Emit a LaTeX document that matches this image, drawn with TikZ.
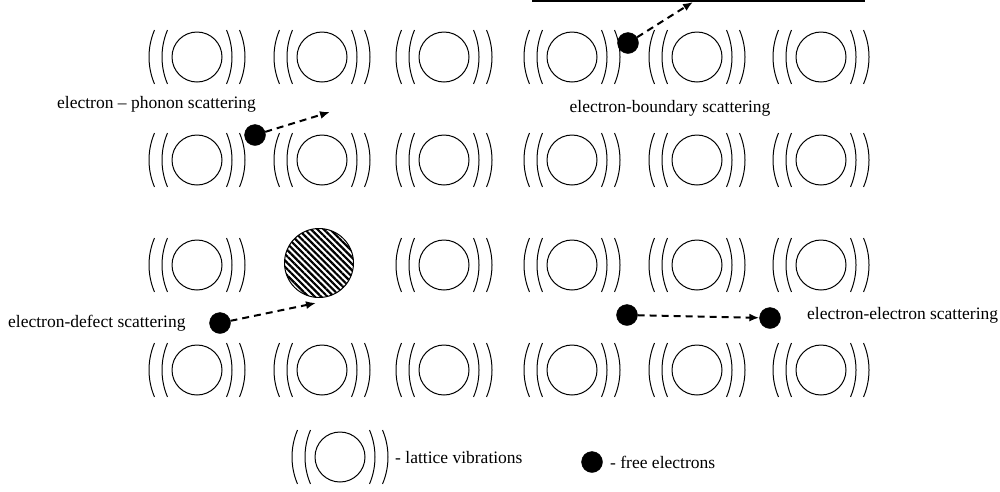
\documentclass[tikz,border=0pt]{standalone}
\usepackage{fontspec}
\setmainfont{Liberation Serif}
\usetikzlibrary{patterns.meta,arrows.meta}

\begin{document}
\begin{tikzpicture}[
		x=1pt, y=-1pt,
		every node/.style={font=\fontsize{17.5}{20}\selectfont},
		electron/.style={draw, fill, circle, inner sep=0pt, minimum size=21pt},
		defect/.style={draw, circle, line width=1pt, minimum size=69pt,
			pattern={Lines[angle=-45, distance=4.5pt, line width=2.2pt]}},
		txt/.style={inner sep=0pt},
		scatter/.style={line width=2pt, dash pattern=on 7pt off 5pt, -{Latex[length=10pt, width=8pt]}},
		lattice/.pic={
			\draw[line width=1pt] (0,0) circle[radius=25];
			\foreach \d in {35,48} {
				\draw[line width=1pt] ([shift={(-\d+69,0)}]157:69) arc[start angle=157, end angle=203, radius=69];
				\draw[line width=1pt] ([shift={(\d-69,0)}]-23:69) arc[start angle=-23, end angle=23, radius=69];
			}
		},
		]
		\useasboundingbox (0,0) rectangle (1000,491);
		
		% lattice ions
		\foreach \x in {197,322,444,572,697,821} {
			\pic at (\x,57) {lattice};
			\pic at (\x,160) {lattice};
			\pic at (\x,370) {lattice};
		}
		\foreach \x in {197,444,572,697,821}
			\pic at (\x,265) {lattice};
		
		% boundary
		\coordinate (bl) at (532,1);
		\coordinate (br) at (865,1);
		\draw[line width=2pt] (bl) -- (br);
		
		% defect
		\node[defect] (defect) at (319,263) {};
		
		% electrons
		\node[electron] (eph) at (255,135) {};
		\node[electron] (eb) at (628,43) {};
		\node[electron] (ed) at (220,323) {};
		\node[electron] (ee1) at (627,315) {};
		\node[electron] (ee2) at (770,318) {};
		
		\coordinate (phhit) at (330,112);
		\coordinate (bhit) at (693,2);
		\coordinate (dhit) at (316,303);
		
		\draw[scatter] (eph) -- (phhit);
		\draw[scatter] (eb) -- (bhit);
		\draw[scatter] (ed) -- (dhit);
		\draw[scatter] (ee1) -- (ee2);
		
		% labels
		\node[txt, anchor=west] (lph) at (57,104) {electron -- phonon scattering};
		\node[txt] (lb) at (670,108) {electron-boundary scattering};
		\node[txt, anchor=west] (ld) at (8,323) {electron-defect scattering};
		\node[txt, anchor=west] (lee) at (807,315) {electron-electron scattering};
		
		% legend
		\pic at (340,457) {lattice};
		\node[txt, anchor=west] (llat) at (395,458) {- lattice vibrations};
		\node[electron] (lel) at (592,462) {};
		\node[txt, anchor=west] (lfree) at (610,462) {- free electrons};
	\end{tikzpicture}
\end{document}
